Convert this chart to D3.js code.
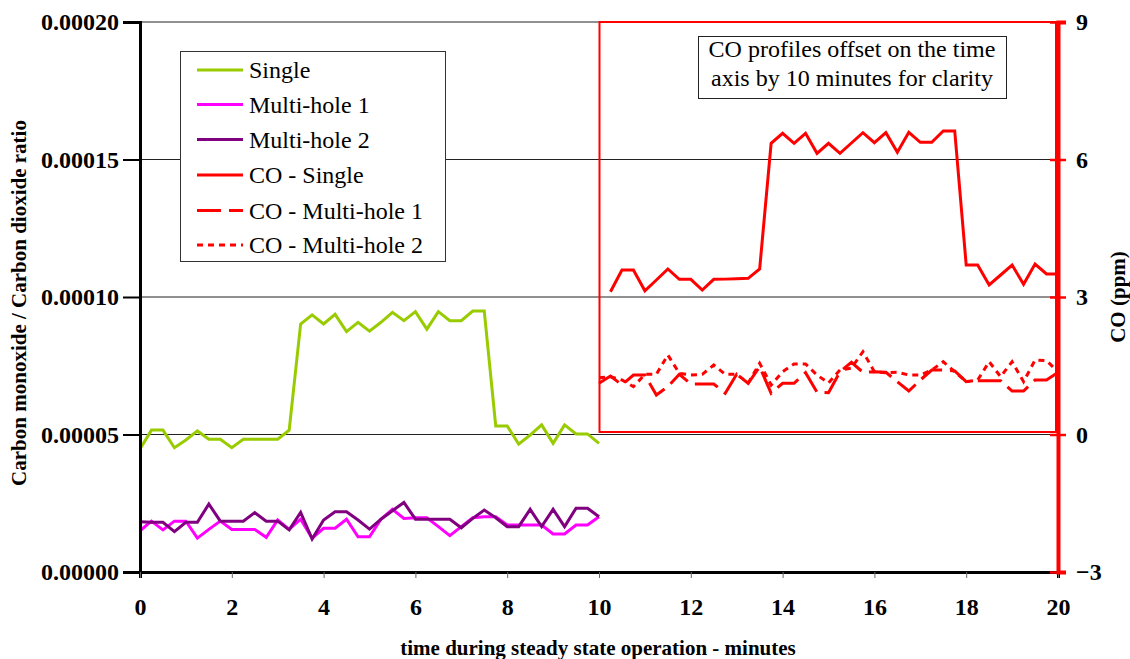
<!DOCTYPE html>
<html><head><meta charset="utf-8">
<script src="https://cdn.jsdelivr.net/npm/d3@7"></script>
<style>body{margin:0;background:#fff}svg{display:block}text{font-family:"Liberation Serif","Times New Roman",serif}</style>
</head><body>
<svg id="c" width="1130" height="659"></svg>
<script>
const timeLeft = [0,0.25,0.5,0.75,1,1.25,1.5,1.75,2,2.25,2.5,2.75,3,3.25,3.5,3.75,4,4.25,4.5,4.75,5,5.25,5.5,5.75,6,6.25,6.5,6.75,7,7.25,7.5,7.75,8,8.25,8.5,8.75,9,9.25,9.5,9.75,10];
const timeCO = [10,10.25,10.5,10.75,11,11.25,11.5,11.75,12,12.25,12.5,12.75,13,13.25,13.5,13.75,14,14.25,14.5,14.75,15,15.25,15.5,15.75,16,16.25,16.5,16.75,17,17.25,17.5,17.75,18,18.25,18.5,18.75,19,19.25,19.5,19.75,20];
const single = [0.0000447,0.0000516,0.0000516,0.0000452,0.0000480,0.0000513,0.0000483,0.0000483,0.0000452,0.0000483,0.0000483,0.0000483,0.0000483,0.0000516,0.0000902,0.0000935,0.0000902,0.0000937,0.0000874,0.0000908,0.0000876,0.0000908,0.0000944,0.0000914,0.0000947,0.0000883,0.0000947,0.0000914,0.0000914,0.0000949,0.0000949,0.0000531,0.0000531,0.0000465,0.0000498,0.0000535,0.0000468,0.0000535,0.0000502,0.0000502,0.0000468];
const multi1 = [0.0000150,0.0000185,0.0000153,0.0000185,0.0000185,0.0000123,0.0000155,0.0000185,0.0000155,0.0000155,0.0000155,0.0000126,0.0000189,0.0000155,0.0000192,0.0000123,0.0000159,0.0000159,0.0000192,0.0000128,0.0000128,0.0000192,0.0000228,0.0000195,0.0000197,0.0000197,0.0000165,0.0000132,0.0000165,0.0000197,0.0000201,0.0000201,0.0000171,0.0000171,0.0000171,0.0000171,0.0000138,0.0000138,0.0000171,0.0000171,0.0000201];
const multi2 = [0.0000183,0.0000181,0.0000181,0.0000147,0.0000181,0.0000181,0.0000247,0.0000185,0.0000185,0.0000185,0.0000216,0.0000185,0.0000185,0.0000153,0.0000217,0.0000120,0.0000189,0.0000219,0.0000219,0.0000189,0.0000156,0.0000192,0.0000223,0.0000253,0.0000192,0.0000192,0.0000192,0.0000192,0.0000161,0.0000195,0.0000225,0.0000197,0.0000165,0.0000165,0.0000228,0.0000165,0.0000228,0.0000165,0.0000232,0.0000232,0.0000201];
const coSingle = [3.116,3.589,3.589,3.137,3.371,3.611,3.386,3.386,3.153,3.386,3.39,3.40,3.408,3.611,6.353,6.572,6.353,6.572,6.135,6.353,6.135,6.36,6.585,6.367,6.585,6.157,6.593,6.375,6.375,6.622,6.622,3.698,3.698,3.262,3.48,3.698,3.277,3.72,3.502,3.502];
const coMulti1 = [1.117,1.276,1.080,1.298,1.298,0.862,1.043,1.313,1.102,1.102,1.102,0.899,1.313,1.117,1.479,0.899,1.117,1.117,1.348,0.921,0.912,1.370,1.575,1.357,1.370,1.357,1.152,0.949,1.189,1.407,1.407,1.385,1.152,1.174,1.174,1.174,0.949,0.949,1.189,1.189,1.357];
const coMulti2 = [1.239,1.261,1.189,1.043,1.313,1.313,1.735,1.335,1.298,1.313,1.516,1.313,1.313,1.124,1.553,1.080,1.370,1.538,1.538,1.298,1.124,1.407,1.45,1.807,1.370,1.348,1.357,1.298,1.298,1.407,1.588,1.370,1.152,1.189,1.588,1.261,1.588,1.152,1.625,1.610,1.370];
const leftTicks = [0,0.00005,0.0001,0.00015,0.0002];
const rightTicks = [-3,0,3,6,9];
const xTicks = [0,2,4,6,8,10,12,14,16,18,20];
const legendNames = ["Single","Multi-hole 1","Multi-hole 2","CO - Single","CO - Multi-hole 1","CO - Multi-hole 2"];
const noteLines = ["CO profiles offset on the time","axis by 10 minutes for clarity"];

const svg = d3.select("#c");
const L=140,R=1058,T=22,B=572;
const x = d3.scaleLinear().domain([0,20]).range([L,R]);
const yL = d3.scaleLinear().domain([0,0.0002]).range([B,T]);
const yR = d3.scaleLinear().domain([-3,9]).range([B,T]);

// gridlines
svg.append("g").selectAll("line").data(leftTicks.slice(1)).join("line")
  .attr("x1",L).attr("x2",R).attr("y1",d=>yL(d)).attr("y2",d=>yL(d))
  .attr("stroke","#222").attr("stroke-width",1.2);

// red highlight rectangle
svg.append("rect").attr("x",x(10)+0.5).attr("y",T).attr("width",x(20)-x(10)-2.5).attr("height",yR(0)-T-2.5)
  .attr("fill","none").attr("stroke","#ff0000").attr("stroke-width",2);

// lines
const lineL = (ts)=>d3.line().x((d,i)=>x(ts[i])).y(d=>yL(d));
const lineR = (ts)=>d3.line().x((d,i)=>x(ts[i])).y(d=>yR(d));
const series = [
  {v:coMulti1, ts:timeCO, r:true, c:"#ff0000", dash:"24,8"},
  {v:coMulti2, ts:timeCO, r:true, c:"#ff0000", dash:"6,5"},
  {v:coSingle, ts:timeCO.slice(1), r:true, c:"#ff0000", dash:null},
  {v:single, ts:timeLeft, r:false, c:"#99cc00", dash:null},
  {v:multi1, ts:timeLeft, r:false, c:"#ff00ff", dash:null},
  {v:multi2, ts:timeLeft, r:false, c:"#800080", dash:null}
];
series.forEach(s=>{
  svg.append("path").datum(s.v).attr("d",(s.r?lineR(s.ts):lineL(s.ts)))
    .attr("fill","none").attr("stroke",s.c).attr("stroke-width",3)
    .attr("stroke-linejoin","miter").attr("stroke-dasharray",s.dash);
});

const ff = "'Liberation Serif','Times New Roman',serif";
// left axis
const gl = svg.append("g").attr("transform",`translate(${L},0)`)
  .call(d3.axisLeft(yL).tickValues(leftTicks).tickFormat(d=>d3.format(".5f")(d)).tickSize(17).tickPadding(4));
gl.select(".domain").attr("stroke","#000").attr("stroke-width",3);
gl.selectAll(".tick line").attr("stroke","#000").attr("stroke-width",2);
gl.selectAll("text").attr("font-size",24).attr("font-weight","bold").attr("fill","#000").style("font-family",ff);

// bottom axis
const gb = svg.append("g").attr("transform",`translate(0,${B})`)
  .call(d3.axisBottom(x).tickValues(xTicks).tickFormat(d3.format("d")).tickSize(6).tickPadding(20));
gb.select(".domain").attr("stroke","#000").attr("stroke-width",3);
gb.selectAll(".tick line").attr("stroke","#666").attr("stroke-width",1);
gb.selectAll("text").attr("font-size",24).attr("font-weight","bold").attr("fill","#000").style("font-family",ff);

// right axis
const gr = svg.append("g").attr("transform",`translate(${R},0)`)
  .call(d3.axisRight(yR).tickValues(rightTicks).tickFormat(d3.format("d")).tickSize(8).tickPadding(10));
gr.select(".domain").attr("stroke","#ff0000").attr("stroke-width",4);
gr.selectAll(".tick line").attr("stroke","#ff0000").attr("stroke-width",2.5).attr("x1",-8);
gr.selectAll("text").attr("font-size",24).attr("font-weight","bold").attr("fill","#000").style("font-family",ff);

// axis titles
svg.append("text").attr("transform",`translate(26,303) rotate(-90)`).attr("text-anchor","middle")
  .attr("font-size",21).attr("font-weight","bold").text("Carbon monoxide / Carbon dioxide ratio");
svg.append("text").attr("transform",`translate(1125,${(T+B)/2}) rotate(-90)`).attr("text-anchor","middle")
  .attr("font-size",21).attr("font-weight","bold").text("CO (ppm)");
svg.append("text").attr("x",598).attr("y",655).attr("text-anchor","middle")
  .attr("font-size",21).attr("font-weight","bold").text("time during steady state operation - minutes");

// legend
const lg = svg.append("g");
lg.append("rect").attr("x",180.5).attr("y",51.5).attr("width",265).attr("height",210)
  .attr("fill","#fff").attr("stroke","#333").attr("stroke-width",1);
const legStyle = [["#99cc00",null],["#ff00ff",null],["#800080",null],["#ff0000",null],["#ff0000","24,8"],["#ff0000","6,5"]];
const rowY = [70,104.5,139.5,175,210.5,245];
legendNames.forEach((n,i)=>{
  lg.append("line").attr("x1",197).attr("x2",243).attr("y1",rowY[i]).attr("y2",rowY[i])
    .attr("stroke",legStyle[i][0]).attr("stroke-width",3).attr("stroke-dasharray",legStyle[i][1]);
  lg.append("text").attr("x",249).attr("y",rowY[i]+8).attr("font-size",24).text(n);
});

// note
svg.append("rect").attr("x",698.5).attr("y",36.5).attr("width",308).attr("height",62)
  .attr("fill","#fff").attr("stroke","#222").attr("stroke-width",1);
noteLines.forEach((t,i)=>svg.append("text").attr("x",852).attr("y",57+i*29).attr("text-anchor","middle")
  .attr("font-size",24).text(t));
</script>
</body></html>
